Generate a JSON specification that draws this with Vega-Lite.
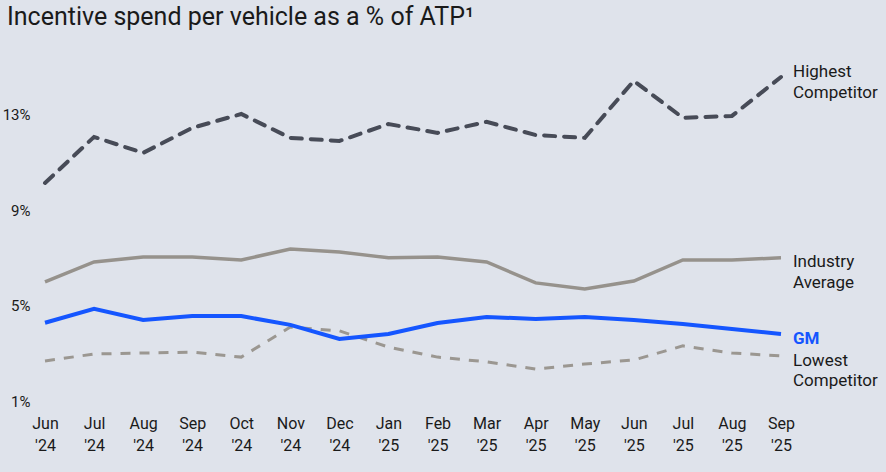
{
  "$schema": "https://vega.github.io/schema/vega-lite/v6.json",
  "width": 736,
  "height": 334,
  "autosize": "none",
  "padding": {"left": 45, "top": 67, "right": 105, "bottom": 71},
  "background": "#dfe3eb",
  "config": {
    "view": {"stroke": null},
    "font": "Roboto",
    "text": {"font": "Roboto"}
  },
  "title": {
    "text": "Incentive spend per vehicle as a % of ATP¹",
    "anchor": "start",
    "frame": "group",
    "dx": -38,
    "offset": 33,
    "fontSize": 25,
    "fontWeight": "normal",
    "color": "#1a1a1a"
  },
  "data": {
    "values": [
      {"month": "Jun '24", "series": "Highest", "value": 10.14},
      {"month": "Jul '24", "series": "Highest", "value": 12.07},
      {"month": "Aug '24", "series": "Highest", "value": 11.4},
      {"month": "Sep '24", "series": "Highest", "value": 12.45},
      {"month": "Oct '24", "series": "Highest", "value": 13.03},
      {"month": "Nov '24", "series": "Highest", "value": 12.03},
      {"month": "Dec '24", "series": "Highest", "value": 11.9},
      {"month": "Jan '25", "series": "Highest", "value": 12.61},
      {"month": "Feb '25", "series": "Highest", "value": 12.24},
      {"month": "Mar '25", "series": "Highest", "value": 12.7},
      {"month": "Apr '25", "series": "Highest", "value": 12.15},
      {"month": "May '25", "series": "Highest", "value": 12.03},
      {"month": "Jun '25", "series": "Highest", "value": 14.42},
      {"month": "Jul '25", "series": "Highest", "value": 12.87},
      {"month": "Aug '25", "series": "Highest", "value": 12.95},
      {"month": "Sep '25", "series": "Highest", "value": 14.58},
      {"month": "Jun '24", "series": "Industry", "value": 5.99},
      {"month": "Jul '24", "series": "Industry", "value": 6.83},
      {"month": "Aug '24", "series": "Industry", "value": 7.04},
      {"month": "Sep '24", "series": "Industry", "value": 7.04},
      {"month": "Oct '24", "series": "Industry", "value": 6.91},
      {"month": "Nov '24", "series": "Industry", "value": 7.37},
      {"month": "Dec '24", "series": "Industry", "value": 7.25},
      {"month": "Jan '25", "series": "Industry", "value": 7.0},
      {"month": "Feb '25", "series": "Industry", "value": 7.04},
      {"month": "Mar '25", "series": "Industry", "value": 6.83},
      {"month": "Apr '25", "series": "Industry", "value": 5.95},
      {"month": "May '25", "series": "Industry", "value": 5.7},
      {"month": "Jun '25", "series": "Industry", "value": 6.03},
      {"month": "Jul '25", "series": "Industry", "value": 6.91},
      {"month": "Aug '25", "series": "Industry", "value": 6.91},
      {"month": "Sep '25", "series": "Industry", "value": 7.0},
      {"month": "Jun '24", "series": "GM", "value": 4.28},
      {"month": "Jul '24", "series": "GM", "value": 4.86},
      {"month": "Aug '24", "series": "GM", "value": 4.4},
      {"month": "Sep '24", "series": "GM", "value": 4.56},
      {"month": "Oct '24", "series": "GM", "value": 4.56},
      {"month": "Nov '24", "series": "GM", "value": 4.19},
      {"month": "Dec '24", "series": "GM", "value": 3.6},
      {"month": "Jan '25", "series": "GM", "value": 3.81},
      {"month": "Feb '25", "series": "GM", "value": 4.27},
      {"month": "Mar '25", "series": "GM", "value": 4.52},
      {"month": "Apr '25", "series": "GM", "value": 4.44},
      {"month": "May '25", "series": "GM", "value": 4.52},
      {"month": "Jun '25", "series": "GM", "value": 4.4},
      {"month": "Jul '25", "series": "GM", "value": 4.23},
      {"month": "Aug '25", "series": "GM", "value": 4.02},
      {"month": "Sep '25", "series": "GM", "value": 3.81},
      {"month": "Jun '24", "series": "Lowest", "value": 2.68},
      {"month": "Jul '24", "series": "Lowest", "value": 2.97},
      {"month": "Aug '24", "series": "Lowest", "value": 3.01},
      {"month": "Sep '24", "series": "Lowest", "value": 3.05},
      {"month": "Oct '24", "series": "Lowest", "value": 2.84},
      {"month": "Nov '24", "series": "Lowest", "value": 4.1},
      {"month": "Dec '24", "series": "Lowest", "value": 3.94},
      {"month": "Jan '25", "series": "Lowest", "value": 3.26},
      {"month": "Feb '25", "series": "Lowest", "value": 2.84},
      {"month": "Mar '25", "series": "Lowest", "value": 2.64},
      {"month": "Apr '25", "series": "Lowest", "value": 2.34},
      {"month": "May '25", "series": "Lowest", "value": 2.55},
      {"month": "Jun '25", "series": "Lowest", "value": 2.72},
      {"month": "Jul '25", "series": "Lowest", "value": 3.31},
      {"month": "Aug '25", "series": "Lowest", "value": 3.01},
      {"month": "Sep '25", "series": "Lowest", "value": 2.89}
    ]
  },
  "encoding": {
    "x": {
      "field": "month",
      "type": "ordinal",
      "sort": null,
      "scale": {"type": "point", "padding": 0},
      "axis": {
        "title": null,
        "domain": false,
        "ticks": false,
        "labelAngle": 0,
        "labelExpr": "split(datum.label, ' ')",
        "labelFontSize": 16,
        "labelLineHeight": 22,
        "labelPadding": 14,
        "labelColor": "#1a1a1a",
        "labelBaseline": "top"
      }
    },
    "y": {
      "field": "value",
      "type": "quantitative",
      "scale": {"domain": [1, 15], "nice": false, "zero": false},
      "axis": {
        "title": null,
        "domain": false,
        "ticks": false,
        "grid": false,
        "values": [1, 5, 9, 13],
        "labelExpr": "datum.value + '%'",
        "labelFontSize": 15,
        "labelPadding": 15,
        "labelColor": "#1a1a1a"
      }
    }
  },
  "layer": [
    {
      "transform": [{"filter": "datum.series == 'Lowest'"}],
      "mark": {"type": "line", "color": "#9b9791", "strokeWidth": 3, "strokeDash": [10, 9]}
    },
    {
      "transform": [{"filter": "datum.series == 'Industry'"}],
      "mark": {"type": "line", "color": "#96928c", "strokeWidth": 3.5}
    },
    {
      "transform": [{"filter": "datum.series == 'GM'"}],
      "mark": {"type": "line", "color": "#1556ff", "strokeWidth": 4}
    },
    {
      "transform": [{"filter": "datum.series == 'Highest'"}],
      "mark": {"type": "line", "color": "#474b57", "strokeWidth": 4, "strokeDash": [11, 9], "strokeCap": "round"}
    },
    {
      "transform": [{"filter": "datum.series == 'Highest' && datum.month == \"Sep '25\""}],
      "mark": {"type": "text", "align": "left", "baseline": "middle", "dx": 12, "dy": -5, "fontSize": 17, "lineHeight": 21, "color": "#1a1a1a", "text": ["Highest", "Competitor"]}
    },
    {
      "transform": [{"filter": "datum.series == 'Industry' && datum.month == \"Sep '25\""}],
      "mark": {"type": "text", "align": "left", "baseline": "middle", "dx": 12, "dy": 4, "fontSize": 17, "lineHeight": 21, "color": "#1a1a1a", "text": ["Industry", "Average"]}
    },
    {
      "transform": [{"filter": "datum.series == 'GM' && datum.month == \"Sep '25\""}],
      "mark": {"type": "text", "align": "left", "baseline": "middle", "dx": 12, "dy": 5, "fontSize": 17, "fontWeight": "bold", "color": "#1556ff", "text": "GM"}
    },
    {
      "transform": [{"filter": "datum.series == 'Lowest' && datum.month == \"Sep '25\""}],
      "mark": {"type": "text", "align": "left", "baseline": "middle", "dx": 12, "dy": 5, "fontSize": 17, "lineHeight": 20, "color": "#1a1a1a", "text": ["Lowest", "Competitor"]}
    }
  ]
}
